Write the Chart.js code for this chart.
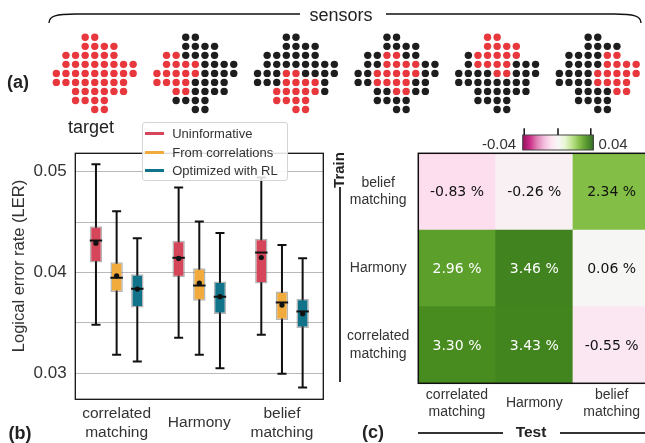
<!DOCTYPE html>
<html>
<head>
<meta charset="utf-8">
<script src="https://cdn.jsdelivr.net/npm/chart.js@4.4.1/dist/chart.umd.min.js"></script>
<style>
html, body { margin: 0; padding: 0; overflow: hidden; background: #fff; }
#page { position: relative; width: 645px; height: 443px; overflow: hidden; font-family: "Liberation Sans", Arial, sans-serif; color: #222; }
canvas { position: absolute; }
.t { position: absolute; white-space: nowrap; line-height: 1; transform: translate(-50%, -50%); }
.b { font-weight: bold; }
#legend { position: absolute; left: 141.7px; top: 121.7px; width: 146px; height: 59.5px; box-sizing: border-box;
  border: 1px solid #d4d4d4; border-radius: 3px; background: rgba(255,255,255,0.85); padding-top: 2.5px; font-size: 13px; color: #333; }
#legend .li { height: 18.4px; line-height: 18.4px; white-space: nowrap; }
#legend .sw { display: inline-block; width: 19px; height: 3px; vertical-align: middle; margin: 0 8px 0 2.5px; position: relative; top: -1px; }
.ln { position: absolute; background: #333; }
</style>
</head>
<body>
<div id="page">
  <svg width="645" height="40" style="position:absolute;left:0;top:0">
    <path d="M49,23 C49,16 56,14 76,14 L300,14 M386,14 L614,14 C634,14 641,16 641,23" fill="none" stroke="#111" stroke-width="1.4"/>
  </svg>
  <canvas id="sensors" width="645" height="120" style="left:0;top:0"></canvas>
  <canvas id="box" width="330" height="323" style="left:0;top:120px"></canvas>
  <canvas id="heat" width="330" height="323" style="left:330px;top:120px"></canvas>
  <div id="legend"></div>

  <div class="t" style="left:341px;top:15px;font-size:18px">sensors</div>
  <div class="t b" style="left:18px;top:82px;font-size:18px">(a)</div>
  <div class="t" style="left:91px;top:127px;font-size:18px">target</div>
  <div class="t" style="left:18px;top:266px;font-size:16.5px;color:#333;transform:translate(-50%,-50%) rotate(-90deg)">Logical error rate (LER)</div>
  <div class="t b" style="left:20px;top:433px;font-size:18px">(b)</div>
  <div class="t b" style="left:373px;top:432px;font-size:18px">(c)</div>
  <div class="t b" style="left:338px;top:170px;font-size:15px;transform:translate(-50%,-50%) rotate(-90deg)">Train</div>
  <div class="ln" style="left:339px;top:187px;width:2px;height:195px"></div>
  <div class="t b" style="left:531px;top:432px;font-size:15.5px">Test</div>
  <div class="ln" style="left:418px;top:432px;width:85px;height:2px"></div>
  <div class="ln" style="left:560px;top:432px;width:85px;height:2px"></div>
  <div class="t" style="left:499px;top:143px;font-size:15px;color:#333">-0.04</div>
  <div class="t" style="left:613px;top:143px;font-size:15px;color:#333">0.04</div>
</div>

<script>
// ---- (a) sensor layouts on the 49-site lattice ----
var latticeRows = [[3, 4], [3, 6], [1, 6], [1, 8], [0, 8], [0, 7], [2, 7], [2, 5], [4, 5]];
// red sites per layout as [row, firstCol, lastCol]; null = target (all sites)
var sensorLayouts = [
  null,
  [[2, 1, 2], [3, 1, 4], [4, 0, 4], [5, 0, 3], [6, 2, 3]],
  [[4, 3, 4], [5, 3, 6], [6, 2, 6], [7, 2, 5], [8, 4, 5]],
  [[2, 3, 4], [3, 3, 6], [4, 2, 6], [5, 2, 5], [6, 4, 5]],
  [[0, 3, 4], [1, 3, 6], [2, 2, 6], [3, 2, 5], [4, 4, 5]],
  [[2, 5, 6], [3, 5, 8], [4, 4, 8], [5, 4, 7], [6, 6, 7]]
];
var layoutGap = 10.48; // lattice units between layouts

// ---- (b) LER box plots: [min, q1, median, q3, max, mean] ----
var decoders = [['correlated', 'matching'], 'Harmony', ['belief', 'matching']];
var seriesNames = ['Uninformative', 'From correlations', 'Optimized with RL'];
var uninformative = [
  [0.03482, 0.04099, 0.04317, 0.04459, 0.05073, 0.04291],
  [0.03353, 0.03954, 0.04146, 0.04314, 0.04842, 0.04140],
  [0.03383, 0.03891, 0.04198, 0.04334, 0.04941, 0.04149]
];
var fromCorrelations = [
  [0.03185, 0.03806, 0.03948, 0.04103, 0.04608, 0.03967],
  [0.03185, 0.03720, 0.03871, 0.04043, 0.04505, 0.03894],
  [0.02997, 0.03529, 0.03703, 0.03812, 0.04274, 0.03677]
];
var optimizedRL = [
  [0.03119, 0.03653, 0.03839, 0.03984, 0.04340, 0.03836],
  [0.03050, 0.03588, 0.03760, 0.03911, 0.04393, 0.03760],
  [0.02861, 0.03450, 0.03614, 0.03740, 0.04142, 0.03591]
];
var yTicks = [0.03, 0.035, 0.04, 0.045, 0.05];

// ---- (c) relative LER change, rows = train decoder, cols = test decoder ----
var testDecoders = [['correlated', 'matching'], 'Harmony', ['belief', 'matching']];
var trainDecoders = [['correlated', 'matching'], 'Harmony', ['belief', 'matching']]; // bottom to top
var trainedCorrelated = [0.0330, 0.0343, -0.0055];
var trainedHarmony = [0.0296, 0.0346, 0.0006];
var trainedBelief = [-0.0083, -0.0026, 0.0234];

var boxColors = ['#d6465a', '#f0ab3c', '#10738a'];
var sansFont = '"Liberation Sans", Arial, sans-serif';

// ---------- (a) ----------
var redPts = [], blackPts = [];
sensorLayouts.forEach(function (layout, k) {
  latticeRows.forEach(function (rng, r) {
    for (var c = rng[0]; c <= rng[1]; c++) {
      var red = layout === null || layout.some(function (s) { return s[0] === r && c >= s[1] && c <= s[2]; });
      (red ? redPts : blackPts).push({ x: k * layoutGap + c, y: r });
    }
  });
});

new Chart(document.getElementById('sensors'), {
  type: 'scatter',
  data: {
    datasets: [
      { data: redPts, pointRadius: 3.7, pointBackgroundColor: '#e8383d', pointBorderWidth: 0, clip: false },
      { data: blackPts, pointRadius: 3.7, pointBackgroundColor: '#1e1e1e', pointBorderWidth: 0, clip: false }
    ]
  },
  options: {
    responsive: false, animation: false,
    plugins: { legend: { display: false }, tooltip: { enabled: false } },
    scales: {
      x: { display: false, min: -5.453, max: 60.905 },
      y: { display: false, min: -3.696, max: 8.727, reverse: true }
    }
  }
});

// ---------- (b) ----------
var boxSeries = [uninformative, fromCorrelations, optimizedRL];

var boxPlugin = {
  id: 'boxes',
  beforeDatasetsDraw: function (chart) {
    var ctx = chart.ctx, ys = chart.scales.y;
    ctx.save();
    ctx.strokeStyle = '#111';
    ctx.lineWidth = 2;
    boxSeries.forEach(function (s, i) {
      chart.getDatasetMeta(i).data.forEach(function (el, j) {
        var top = ys.getPixelForValue(s[j][4]), bot = ys.getPixelForValue(s[j][0]);
        ctx.beginPath();
        ctx.moveTo(el.x, top); ctx.lineTo(el.x, bot);
        ctx.moveTo(el.x - 4.5, top); ctx.lineTo(el.x + 4.5, top);
        ctx.moveTo(el.x - 4.5, bot); ctx.lineTo(el.x + 4.5, bot);
        ctx.stroke();
      });
    });
    ctx.restore();
  },
  afterDatasetsDraw: function (chart) {
    var ctx = chart.ctx, ys = chart.scales.y;
    ctx.save();
    ctx.strokeStyle = '#111';
    ctx.fillStyle = '#111';
    ctx.lineWidth = 2;
    boxSeries.forEach(function (s, i) {
      chart.getDatasetMeta(i).data.forEach(function (el, j) {
        var med = ys.getPixelForValue(s[j][2]);
        ctx.beginPath();
        ctx.moveTo(el.x - el.width / 2, med); ctx.lineTo(el.x + el.width / 2, med);
        ctx.stroke();
        ctx.beginPath();
        ctx.arc(el.x, ys.getPixelForValue(s[j][5]), 2.6, 0, Math.PI * 2);
        ctx.fill();
      });
    });
    var a = chart.chartArea;
    ctx.lineWidth = 1.3;
    ctx.strokeRect(a.left, a.top, a.right - a.left, a.bottom - a.top);
    ctx.restore();
  }
};

new Chart(document.getElementById('box'), {
  type: 'bar',
  data: {
    labels: decoders,
    datasets: boxSeries.map(function (s, i) {
      return {
        label: seriesNames[i],
        data: s.map(function (d) { return [d[1], d[3]]; }),
        backgroundColor: boxColors[i],
        borderColor: 'rgba(90,90,90,0.45)',
        borderWidth: 1.5,
        borderSkipped: false,
        categoryPercentage: 0.75,
        barPercentage: 0.6
      };
    })
  },
  options: {
    responsive: false, animation: false,
    layout: { padding: { left: 0, top: 33.3, right: 6.7, bottom: 0 } },
    plugins: { legend: { display: false }, tooltip: { enabled: false } },
    scales: {
      x: {
        grid: { display: false, drawTicks: false },
        border: { display: false },
        ticks: { color: '#333', font: { family: sansFont, size: 15.5, lineHeight: 1.2 }, padding: 14.5, crossAlign: 'center', maxRotation: 0 },
        afterFit: function (s) { s.height = 43.7; }
      },
      y: {
        min: 0.02743, max: 0.05182,
        grid: { color: '#b9b9b9', lineWidth: 1, drawTicks: false },
        border: { display: false },
        afterBuildTicks: function (s) { s.ticks = yTicks.map(function (v) { return { value: v }; }); },
        ticks: {
          color: '#333', font: { family: sansFont, size: 17 }, padding: 8.6,
          callback: function (v) { return Math.abs(v * 100 - Math.round(v * 100)) < 1e-6 ? v.toFixed(2) : ''; }
        },
        afterFit: function (s) { s.width = 75.3; }
      }
    }
  },
  plugins: [boxPlugin]
});

// legend (b)
var legendEl = document.getElementById('legend');
seriesNames.forEach(function (n, i) {
  legendEl.innerHTML += '<div class="li"><span class="sw" style="background:' + boxColors[i] + '"></span>' + n + '</div>';
});

// ---------- (c) ----------
var piygStops = ['#8e0152', '#c51b7d', '#de77ae', '#f1b6da', '#fde0ef', '#f7f7f7', '#e6f5d0', '#b8e186', '#7fbc41', '#4d9221', '#276419'];
function hexRgb(h) { return [parseInt(h.substr(1, 2), 16), parseInt(h.substr(3, 2), 16), parseInt(h.substr(5, 2), 16)]; }
function piyg(v) {
  var t = Math.max(0, Math.min(1, (v + 0.04) / 0.08)) * 10;
  var i = Math.min(9, Math.floor(t)), f = t - i;
  var a = hexRgb(piygStops[i]), b = hexRgb(piygStops[i + 1]);
  return 'rgb(' + a.map(function (x, k) { return Math.round(x + (b[k] - x) * f); }).join(',') + ')';
}

var heatRows = [trainedCorrelated, trainedHarmony, trainedBelief];

var heatPlugin = {
  id: 'heatText',
  afterDatasetsDraw: function (chart) {
    var ctx = chart.ctx;
    ctx.save();
    ctx.font = '14px "DejaVu Sans", sans-serif';
    ctx.textAlign = 'center';
    ctx.textBaseline = 'middle';
    heatRows.forEach(function (row, r) {
      chart.getDatasetMeta(r).data.forEach(function (el, c) {
        var v = row[c];
        ctx.fillStyle = v > 0.025 ? '#fff' : '#111';
        ctx.fillText((v * 100).toFixed(2) + ' %', el.x, (el.y + el.base) / 2 + 1);
      });
    });
    var a = chart.chartArea;
    ctx.strokeStyle = '#111';
    ctx.lineWidth = 1.5;
    ctx.strokeRect(a.left, a.top, a.right - a.left, a.bottom - a.top);
    // colorbar
    var x0 = 192.7, x1 = 263.3, y0 = 15, y1 = 30;
    for (var x = x0; x < x1; x++) {
      ctx.fillStyle = piyg(-0.04 + 0.08 * (x - x0 + 0.5) / (x1 - x0));
      ctx.fillRect(x, y0, 1.2, y1 - y0);
    }
    ctx.strokeStyle = '#444';
    ctx.lineWidth = 1;
    ctx.strokeRect(x0, y0, x1 - x0, y1 - y0);
    ctx.strokeStyle = '#111';
    ctx.lineWidth = 1.5;
    [x0 + 1.5, (x0 + x1) / 2, x1 - 2.5].forEach(function (tx) {
      ctx.beginPath(); ctx.moveTo(tx, 8.3); ctx.lineTo(tx, y0); ctx.stroke();
    });
    ctx.restore();
  }
};

new Chart(document.getElementById('heat'), {
  type: 'bar',
  data: {
    labels: testDecoders,
    datasets: heatRows.map(function (row, r) {
      return {
        data: row.map(function () { return [r, r + 1]; }),
        backgroundColor: row.map(piyg),
        borderWidth: 0,
        grouped: false,
        barPercentage: 1,
        categoryPercentage: 1
      };
    })
  },
  options: {
    responsive: false, animation: false,
    layout: { padding: { left: 0, top: 33.3, right: 9.7, bottom: 0 } },
    plugins: { legend: { display: false }, tooltip: { enabled: false } },
    scales: {
      x: {
        grid: { display: false, drawTicks: false },
        border: { display: false },
        ticks: { color: '#333', font: { family: sansFont, size: 14, lineHeight: 1.2 }, padding: 11.7, crossAlign: 'center', maxRotation: 0 },
        afterFit: function (s) { s.height = 59.7; }
      },
      y: {
        min: 0, max: 3,
        grid: { display: false, drawTicks: false },
        border: { display: false },
        afterBuildTicks: function (s) { s.ticks = trainDecoders.map(function (d, i) { return { value: i + 0.5 }; }); },
        ticks: {
          color: '#333', font: { family: sansFont, size: 14, lineHeight: 1.25 }, padding: 9, crossAlign: 'center',
          callback: function (v) { return trainDecoders[Math.floor(v)]; }
        },
        afterFit: function (s) { s.width = 88.3; }
      }
    }
  },
  plugins: [heatPlugin]
});
</script>
</body>
</html>
